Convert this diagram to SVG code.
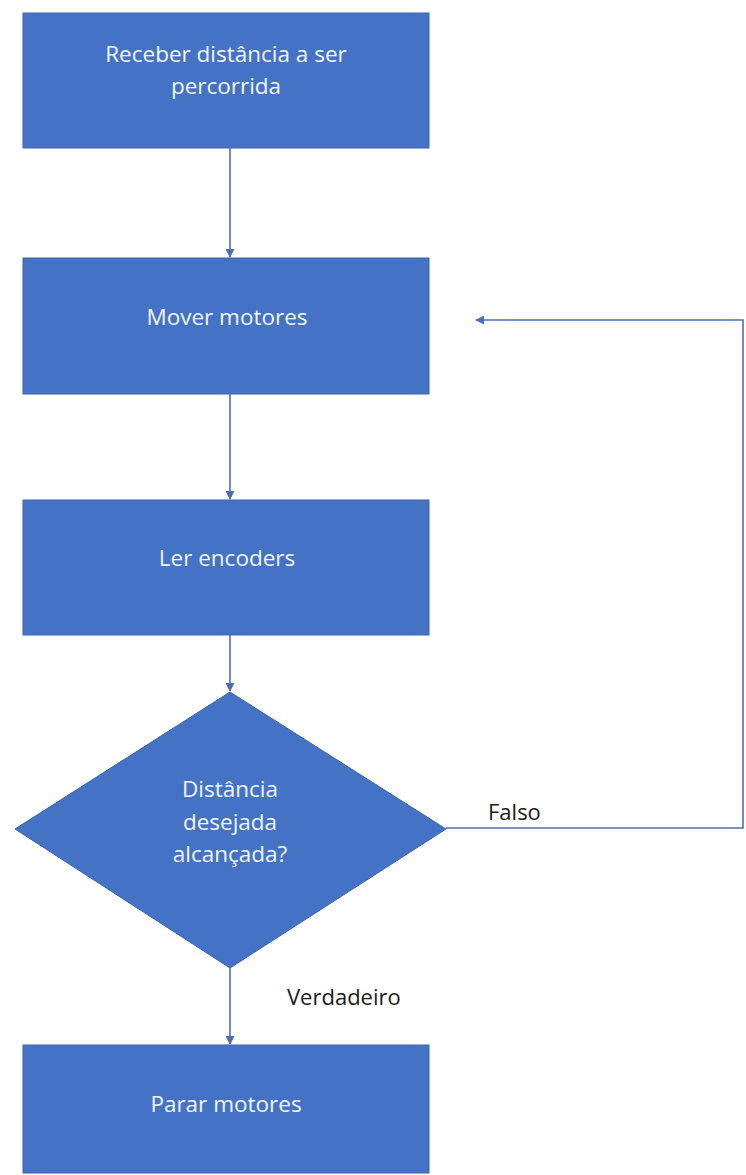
<svg xmlns="http://www.w3.org/2000/svg" width="746" height="1175" viewBox="0 0 746 1175">
  <style>
    .box { fill: #4472C4; stroke: #3A64AE; stroke-width: 1; }
    .node-text { font-family: "Open Sans", "Liberation Sans", sans-serif; font-size: 22.5px; fill: #F2F6FF; text-anchor: middle; }
    .label { font-family: "Open Sans", "Liberation Sans", sans-serif; font-size: 22px; fill: #1A1A1A; }
    .conn { fill: none; stroke: #4A6FB5; stroke-width: 1.6; }
  </style>
  <defs>
    <marker id="arrow" viewBox="0 0 10 10" refX="9" refY="5" markerWidth="9" markerHeight="9" markerUnits="userSpaceOnUse" orient="auto">
      <path d="M0,0 L10,5 L0,10 z" fill="#4A6FB5"/>
    </marker>
  </defs>
  <rect width="746" height="1175" fill="#FFFFFF"/>

  <g id="connectors">
    <line class="conn" x1="230" y1="148" x2="230" y2="257" marker-end="url(#arrow)"/>
    <line class="conn" x1="230" y1="394" x2="230" y2="499" marker-end="url(#arrow)"/>
    <line class="conn" x1="230" y1="635" x2="230" y2="691" marker-end="url(#arrow)"/>
    <line class="conn" x1="230" y1="968" x2="230" y2="1044" marker-end="url(#arrow)"/>
    <polyline class="conn" points="446,828 743,828 743,320 476,320" marker-end="url(#arrow)"/>
    <text class="label" x="488" y="820">Falso</text>
    <text class="label" x="287" y="1005">Verdadeiro</text>
  </g>

  <g id="receber">
    <rect class="box" x="23" y="13" width="406" height="135"/>
    <text class="node-text" x="226" y="62">Receber distância a ser</text>
    <text class="node-text" x="226" y="94">percorrida</text>
  </g>

  <g id="mover">
    <rect class="box" x="23" y="258" width="406" height="136"/>
    <text class="node-text" x="227" y="325">Mover motores</text>
  </g>

  <g id="ler">
    <rect class="box" x="23" y="500" width="406" height="135"/>
    <text class="node-text" x="227" y="566">Ler encoders</text>
  </g>

  <g id="decisao">
    <polygon class="box" points="230,692 446,829 230,968 15,829"/>
    <text class="node-text" x="230" y="797">Distância</text>
    <text class="node-text" x="230" y="830">desejada</text>
    <text class="node-text" x="230" y="862">alcançada?</text>
  </g>

  <g id="parar">
    <rect class="box" x="23" y="1045" width="406" height="128"/>
    <text class="node-text" x="226" y="1112">Parar motores</text>
  </g>
</svg>
